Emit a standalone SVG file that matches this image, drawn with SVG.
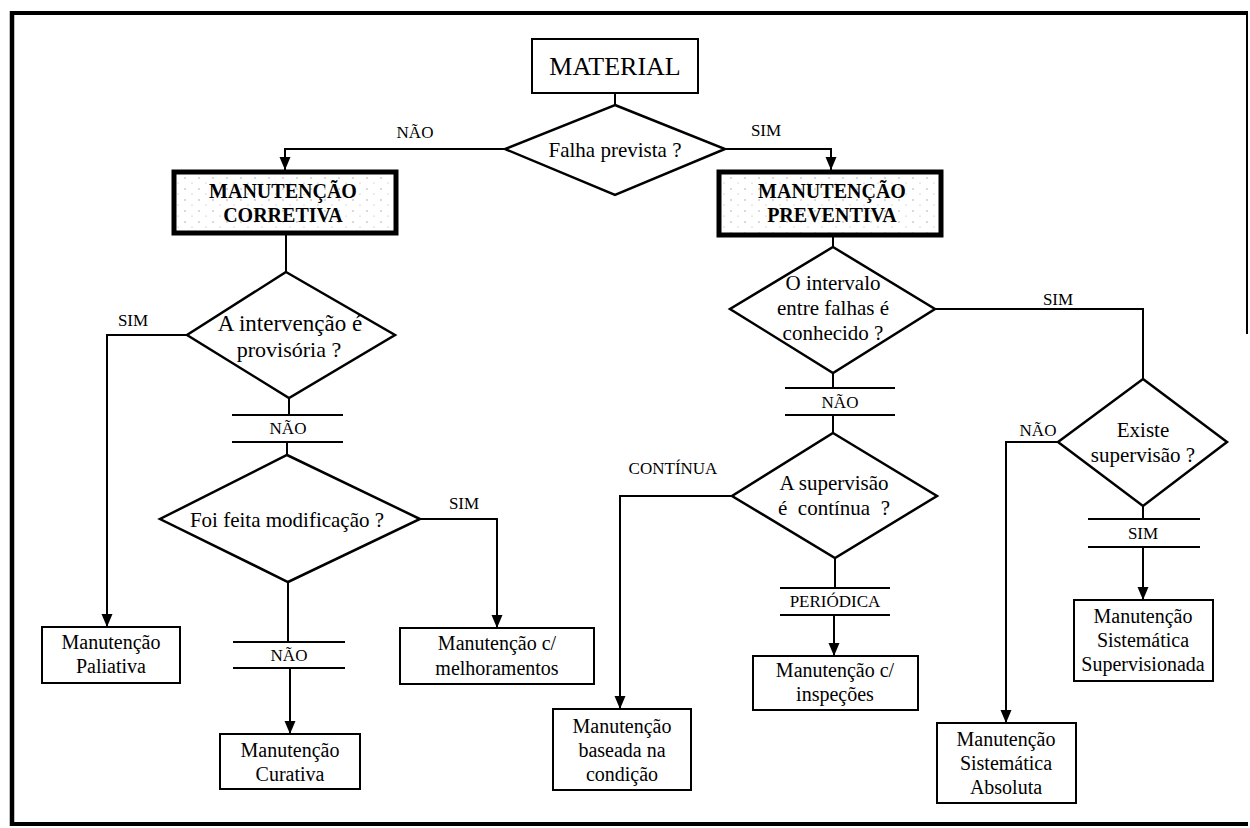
<svg xmlns="http://www.w3.org/2000/svg" width="1250" height="828" viewBox="0 0 1250 828">
  <defs>
    <marker id="arrow" markerUnits="userSpaceOnUse" markerWidth="14" markerHeight="12" refX="13" refY="5.5" orient="auto">
      <path d="M0,0 L13,5.5 L0,11 z" fill="#000"/>
    </marker>
    <pattern id="speckle" patternUnits="userSpaceOnUse" width="14" height="11">
      <rect width="14" height="11" fill="#fff"/>
      <circle cx="3" cy="2" r="0.7" fill="#999"/>
      <circle cx="10" cy="7" r="0.6" fill="#aaa"/>
    </pattern>
    <style>
      .txt { font-family: "Liberation Serif", "Times New Roman", serif; fill: #000; text-anchor: middle; }
      .title { font-size: 26px; }
      .q { font-size: 21px; }
      .lbl { font-size: 17px; }
      .box-t { font-size: 20px; }
      .bold { font-size: 20px; font-weight: bold; }
      .box { fill: #fff; stroke: #000; stroke-width: 2; }
      .main { fill: url(#speckle); stroke: #000; stroke-width: 5; }
      .dia { fill: #fff; stroke: #000; stroke-width: 2.5; stroke-linejoin: miter; }
      .ln { fill: none; stroke: #000; stroke-width: 2; }
      .arr { fill: none; stroke: #000; stroke-width: 2; marker-end: url(#arrow); }
      .frame { stroke: #000; fill: none; }
    </style>
  </defs>

  <rect width="1250" height="828" fill="#fff"/>

  <!-- page frame -->
  <g id="frame">
    <line class="frame" x1="12" y1="13" x2="1248" y2="13" stroke-width="4"/>
    <line class="frame" x1="12" y1="11" x2="12" y2="826" stroke-width="4.5"/>
    <line class="frame" x1="10" y1="824" x2="1248" y2="824" stroke-width="4"/>
    <line class="frame" x1="1247" y1="12" x2="1247" y2="334" stroke-width="2"/>
  </g>

  <!-- connectors -->
  <g id="connectors">
    <line class="ln" x1="615" y1="93" x2="615" y2="105"/>
    <polyline class="arr" points="505,149 285,149 285,170"/>
    <polyline class="arr" points="725,149 831,149 831,170"/>

    <!-- corrective branch -->
    <line class="ln" x1="286" y1="235" x2="286" y2="272"/>
    <polyline class="arr" points="187,335 107,335 107,627"/>
    <line class="ln" x1="289" y1="398" x2="289" y2="415"/>
    <line class="ln" x1="232" y1="415" x2="343" y2="415"/>
    <line class="ln" x1="232" y1="442" x2="343" y2="442"/>
    <line class="ln" x1="287" y1="442" x2="287" y2="455"/>
    <polyline class="arr" points="420,519 497,519 497,628"/>
    <line class="ln" x1="288" y1="582" x2="288" y2="642"/>
    <line class="ln" x1="233" y1="642" x2="345" y2="642"/>
    <line class="ln" x1="233" y1="668" x2="345" y2="668"/>
    <line class="arr" x1="290" y1="668" x2="290" y2="734"/>

    <!-- preventive branch -->
    <line class="ln" x1="833" y1="237" x2="833" y2="247"/>
    <line class="ln" x1="833" y1="373" x2="833" y2="388"/>
    <line class="ln" x1="785" y1="388" x2="895" y2="388"/>
    <line class="ln" x1="785" y1="415" x2="895" y2="415"/>
    <line class="ln" x1="833" y1="415" x2="833" y2="433"/>
    <polyline class="ln" points="935,309 1143,309 1143,379"/>
    <polyline class="arr" points="732,496 620,496 620,709"/>
    <line class="ln" x1="835" y1="558" x2="835" y2="588"/>
    <line class="ln" x1="780" y1="588" x2="890" y2="588"/>
    <line class="ln" x1="780" y1="615" x2="890" y2="615"/>
    <line class="arr" x1="834" y1="615" x2="834" y2="656"/>
    <polyline class="arr" points="1058,442 1006,442 1006,723"/>
    <line class="ln" x1="1143" y1="506" x2="1143" y2="519"/>
    <line class="ln" x1="1088" y1="519" x2="1200" y2="519"/>
    <line class="ln" x1="1088" y1="547" x2="1200" y2="547"/>
    <line class="arr" x1="1143" y1="547" x2="1143" y2="600"/>
  </g>

  <!-- branch labels -->
  <g id="labels">
    <text class="txt lbl" x="415" y="138">NÃO</text>
    <text class="txt lbl" x="766" y="136">SIM</text>
    <text class="txt lbl" x="133" y="326">SIM</text>
    <text class="txt lbl" x="288" y="434">NÃO</text>
    <text class="txt lbl" x="464" y="509">SIM</text>
    <text class="txt lbl" x="289" y="661">NÃO</text>
    <text class="txt lbl" x="673" y="474">CONTÍNUA</text>
    <text class="txt lbl" x="840" y="408">NÃO</text>
    <text class="txt lbl" x="1058" y="305">SIM</text>
    <text class="txt lbl" x="1038" y="436">NÃO</text>
    <text class="txt lbl" x="1143" y="539">SIM</text>
    <text class="txt lbl" x="835" y="607">PERIÓDICA</text>
  </g>

  <g id="material">
    <rect class="box" x="532" y="39" width="166" height="54"/>
    <text class="txt title" x="615" y="75">MATERIAL</text>
  </g>

  <g id="falha-prevista">
    <polygon class="dia" points="615,105 725,149 615,195 505,149"/>
    <text class="txt q" x="615" y="157">Falha prevista ?</text>
  </g>

  <g id="manutencao-corretiva">
    <rect class="main" x="174" y="172" width="222" height="61"/>
    <text class="txt bold" x="283" y="198">MANUTENÇÃO</text>
    <text class="txt bold" x="283" y="222">CORRETIVA</text>
  </g>

  <g id="manutencao-preventiva">
    <rect class="main" x="719" y="172" width="222" height="63"/>
    <text class="txt bold" x="832" y="198">MANUTENÇÃO</text>
    <text class="txt bold" x="832" y="222">PREVENTIVA</text>
  </g>

  <g id="intervencao-provisoria">
    <polygon class="dia" points="286,272 395,335 289,398 187,335"/>
    <text class="txt q" x="290" y="331" style="font-size:23px">A intervenção é</text>
    <text class="txt q" x="289" y="357" style="font-size:22px">provisória ?</text>
  </g>

  <g id="feita-modificacao">
    <polygon class="dia" points="287,455 420,519 288,582 160,519"/>
    <text class="txt q" x="287" y="527">Foi feita modificação ?</text>
  </g>

  <g id="manutencao-paliativa">
    <rect class="box" x="42" y="627" width="138" height="56"/>
    <text class="txt box-t" x="111" y="649">Manutenção</text>
    <text class="txt box-t" x="111" y="673">Paliativa</text>
  </g>

  <g id="manutencao-curativa">
    <rect class="box" x="220" y="734" width="140" height="55"/>
    <text class="txt box-t" x="290" y="757">Manutenção</text>
    <text class="txt box-t" x="290" y="781">Curativa</text>
  </g>

  <g id="manutencao-melhoramentos">
    <rect class="box" x="400" y="628" width="194" height="56"/>
    <text class="txt box-t" x="497" y="650">Manutenção c/</text>
    <text class="txt box-t" x="497" y="675">melhoramentos</text>
  </g>

  <g id="intervalo-conhecido">
    <polygon class="dia" points="833,247 935,309 833,373 730,309"/>
    <text class="txt q" x="833" y="290">O intervalo</text>
    <text class="txt q" x="833" y="315">entre falhas é</text>
    <text class="txt q" x="833" y="340">conhecido ?</text>
  </g>

  <g id="supervisao-continua">
    <polygon class="dia" points="833,433 937,496 835,558 732,496"/>
    <text class="txt q" x="834" y="490">A supervisão</text>
    <text class="txt q" x="834" y="515" style="white-space:pre">é  contínua  ?</text>
  </g>

  <g id="existe-supervisao">
    <polygon class="dia" points="1143,379 1227,442 1143,506 1058,442"/>
    <text class="txt q" x="1143" y="437">Existe</text>
    <text class="txt q" x="1143" y="462">supervisão ?</text>
  </g>

  <g id="manutencao-condicao">
    <rect class="box" x="553" y="709" width="138" height="81"/>
    <text class="txt box-t" x="622" y="733">Manutenção</text>
    <text class="txt box-t" x="622" y="757">baseada na</text>
    <text class="txt box-t" x="622" y="781">condição</text>
  </g>

  <g id="manutencao-inspecoes">
    <rect class="box" x="753" y="656" width="165" height="54"/>
    <text class="txt box-t" x="835" y="677">Manutenção c/</text>
    <text class="txt box-t" x="835" y="701">inspeções</text>
  </g>

  <g id="sistematica-absoluta">
    <rect class="box" x="937" y="723" width="139" height="80"/>
    <text class="txt box-t" x="1006" y="746">Manutenção</text>
    <text class="txt box-t" x="1006" y="770">Sistemática</text>
    <text class="txt box-t" x="1006" y="794">Absoluta</text>
  </g>

  <g id="sistematica-supervisionada">
    <rect class="box" x="1074" y="600" width="139" height="81"/>
    <text class="txt box-t" x="1143" y="623">Manutenção</text>
    <text class="txt box-t" x="1143" y="647">Sistemática</text>
    <text class="txt box-t" x="1143" y="671">Supervisionada</text>
  </g>
</svg>
